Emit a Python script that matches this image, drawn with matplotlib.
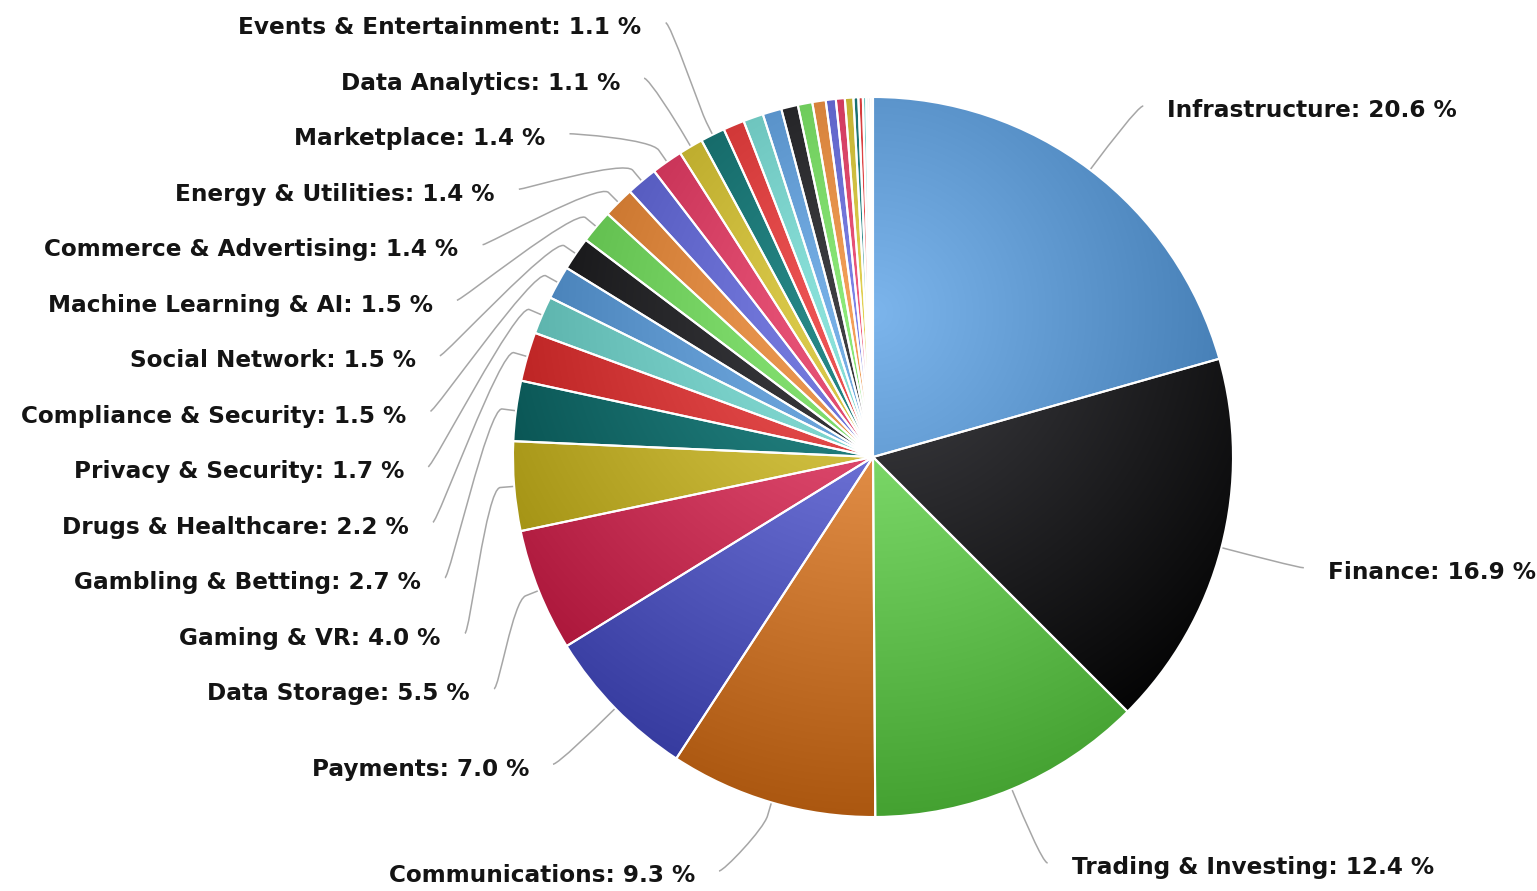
import numpy as np
import matplotlib
matplotlib.use("Agg")
import matplotlib.pyplot as plt
from matplotlib.colors import to_rgb
from matplotlib.path import Path
from matplotlib.patches import PathPatch

categories = ["Infrastructure", "Finance", "Trading & Investing", "Communications",
              "Payments", "Data Storage", "Gaming & VR", "Gambling & Betting",
              "Drugs & Healthcare", "Privacy & Security", "Compliance & Security",
              "Social Network", "Machine Learning & AI", "Commerce & Advertising",
              "Energy & Utilities", "Marketplace", "Data Analytics",
              "Events & Entertainment"]
shares = [20.6, 16.9, 12.4, 9.3, 7.0, 5.5, 4.0, 2.7, 2.2, 1.7, 1.5, 1.5, 1.5,
          1.4, 1.4, 1.4, 1.1, 1.1]
# small sectors at the end of the circle, too thin to get a label
minor_shares = [0.95, 0.9, 0.85, 0.75, 0.65, 0.6, 0.45, 0.4, 0.38, 0.22,
                0.2, 0.15, 0.1, 0.1, 0.1]

palette = ['#7cb5ec', '#434348', '#90ed7d', '#f7a35c', '#8085e9',
           '#f15c80', '#e4d354', '#2b908f', '#f45b5b', '#91e8e1']

values = shares + minor_shares
colors = [palette[i % len(palette)] for i in range(len(values))]

W, H, PX = 1537, 891, 360.0   # figure size in px, px per unit radius
fig = plt.figure(figsize=(W / 100, H / 100), dpi=100)
ax = fig.add_axes([0, 0, 1, 1])

wedges, _ = ax.pie(values, colors=colors, startangle=90, counterclock=False,
                   wedgeprops=dict(edgecolor='white', linewidth=1.5))

# radial gradient shared by all sectors: light near the upper middle, darker outside
g = np.linspace(-1, 1, 800)
gx, gy = np.meshgrid(g, g)
t = np.clip(np.hypot(gx, gy - 0.4) / 1.4, 0, 1)[..., None]
for w, c in zip(wedges, colors):
    base = np.array(to_rgb(c))
    dark = np.clip(base - 76 / 255, 0, 1)
    img = base * (1 - t) + dark * t
    im = ax.imshow(img, extent=(-1, 1, -1, 1), origin='lower',
                   interpolation='bilinear', zorder=1)
    im.set_clip_path(w)
    w.set_facecolor('none')
    w.set_zorder(2)

xlim = (-873 / PX, (W - 873) / PX)
ylim = (-(H - 457) / PX, 457 / PX)

# data labels
R_LAB = 440 / PX      # radius where connectors end
ROW = 55.5 / PX       # label row height
GAP = 29 / PX
BREAK = 1 + 14 / PX
LIFT = 5 / PX         # connector sits a little above the text centre


def spread(targets, lo, hi):
    """pack label centres so they are at least ROW apart, near their targets"""
    order = sorted(range(len(targets)), key=lambda i: -targets[i])
    groups = [[i] for i in order]

    def top_of(grp):
        top = np.mean([targets[i] for i in grp]) + (len(grp) - 1) * ROW / 2
        top = min(top, hi)
        top = max(top, lo + (len(grp) - 1) * ROW)
        return top

    merged = True
    while merged:
        merged = False
        for k in range(len(groups) - 1):
            a, b = groups[k], groups[k + 1]
            if top_of(a) - (len(a) - 1) * ROW - top_of(b) < ROW:
                groups[k] = a + b
                del groups[k + 1]
                merged = True
                break
    pos = [0.0] * len(targets)
    for grp in groups:
        top = top_of(grp)
        for j, i in enumerate(grp):
            pos[i] = top - j * ROW
    return pos


mids = [np.deg2rad((w.theta1 + w.theta2) / 2) for w in wedges[:len(shares)]]
for side in (-1, 1):
    idx = [i for i, a in enumerate(mids) if np.sign(np.cos(a)) == side]
    targets = [R_LAB * np.sin(mids[i]) for i in idx]
    ys = spread(targets, ylim[0] + 20 / PX, ylim[1] - ROW / 2 + LIFT)
    for i, y in zip(idx, ys):
        a = mids[i]
        dx2 = R_LAB ** 2 - y ** 2
        if y > 0:
            # keep labels above the pie from crowding towards the middle
            dx2 = max(dx2, (0.46 * R_LAB) ** 2)
        x = side * np.sqrt(max(dx2, 0))
        ex, ey = np.cos(a), np.sin(a)
        bx, by = BREAK * ex, BREAK * ey
        verts = [(x + side * 5 / PX, y), (x, y), (2 * bx - ex, 2 * by - ey),
                 (bx, by), (ex, ey)]
        codes = [Path.MOVETO, Path.CURVE4, Path.CURVE4, Path.CURVE4, Path.LINETO]
        ax.add_patch(PathPatch(Path(verts, codes), fc='none', ec='#a6a6a6',
                               lw=1.1, zorder=0))
        ax.text(x + side * GAP, y - LIFT, f"{categories[i]}: {shares[i]:.1f} %",
                ha='left' if side > 0 else 'right', va='center',
                fontsize=16.7, fontweight='bold', color='#141414',
                family=['DejaVu Sans'])

ax.set_xlim(*xlim)
ax.set_ylim(*ylim)
ax.set_aspect('auto')
ax.axis('off')
fig.savefig('out.png', dpi=100, facecolor='white')
